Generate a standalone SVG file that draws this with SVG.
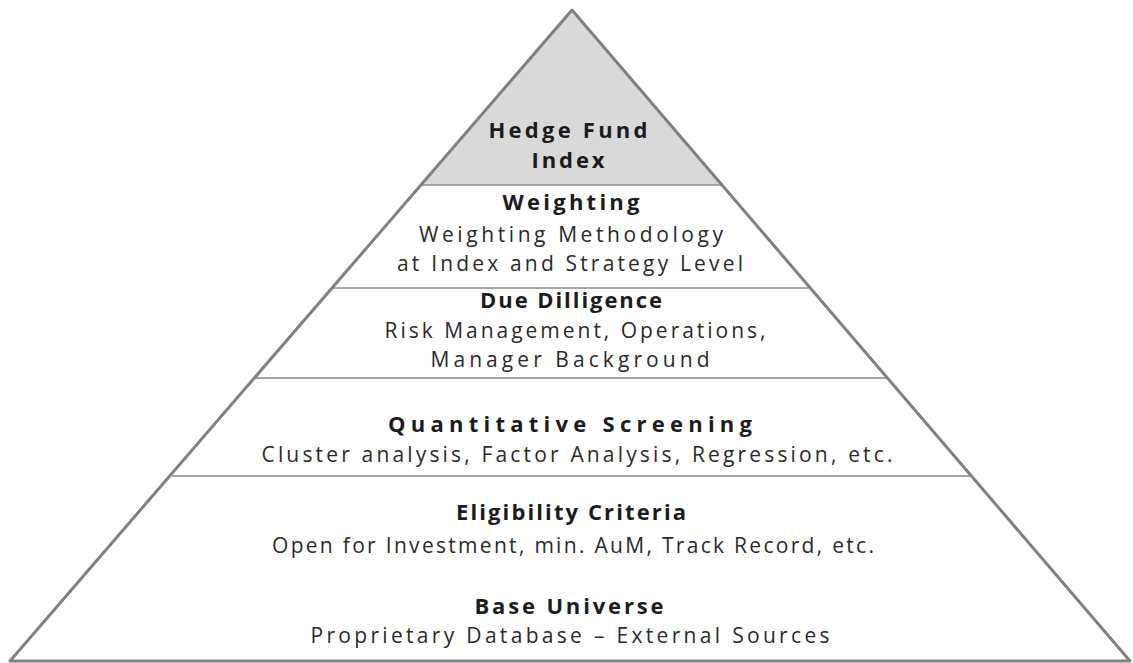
<svg xmlns="http://www.w3.org/2000/svg" width="1133" height="663" viewBox="0 0 1133 663">
<style>
.t{font-family:"Open Sans","Liberation Sans",sans-serif;font-size:21px;fill:#1c1c1c;text-anchor:middle}
.b{font-weight:bold;font-size:22px}
.r{fill:#2a2a2a}
.div{stroke:#a6a6a6;stroke-width:2;fill:none}
.edge{stroke:#808080;stroke-width:3;fill:none;stroke-linejoin:round}
</style>
<rect width="1133" height="663" fill="#ffffff"/>
<polygon points="572,10 10,661 1130,661" fill="#ffffff"/>
<g id="tier-index">
<polygon points="572,10 421,185 722,185" fill="#d9d9d9"/>
<text class="t b" x="568" y="138" textLength="159" lengthAdjust="spacing">Hedge Fund</text>
<text class="t b" x="568" y="168" textLength="73" lengthAdjust="spacing">Index</text>
</g>
<g id="connectors">
<line class="div" x1="421" y1="185" x2="722" y2="185"/>
<line class="div" x1="332" y1="288" x2="810" y2="288"/>
<line class="div" x1="256" y1="378" x2="887" y2="378"/>
<line class="div" x1="172" y1="476" x2="971" y2="476"/>
</g>
<g id="tier-weighting">
<text class="t b" x="571" y="210" textLength="137" lengthAdjust="spacing">Weighting</text>
<text class="t r" x="571" y="242" textLength="304" lengthAdjust="spacing">Weighting Methodology</text>
<text class="t r" x="570" y="271" textLength="346" lengthAdjust="spacing">at Index and Strategy Level</text>
</g>
<g id="tier-due-diligence">
<text class="t b" x="571" y="308" textLength="182" lengthAdjust="spacing">Due Dilligence</text>
<text class="t r" x="575" y="338" textLength="381" lengthAdjust="spacing">Risk Management, Operations,</text>
<text class="t r" x="570" y="367" textLength="279" lengthAdjust="spacing">Manager Background</text>
</g>
<g id="tier-quantitative">
<text class="t b" x="570" y="432" textLength="364" lengthAdjust="spacing">Quantitative Screening</text>
<text class="t r" x="577" y="462" textLength="631" lengthAdjust="spacing">Cluster analysis, Factor Analysis, Regression, etc.</text>
</g>
<g id="tier-eligibility">
<text class="t b" x="571" y="520" textLength="230" lengthAdjust="spacing">Eligibility Criteria</text>
<text class="t r" x="573" y="553" textLength="602" lengthAdjust="spacing">Open for Investment, min. AuM, Track Record, etc.</text>
</g>
<g id="tier-base">
<text class="t b" x="569" y="614" textLength="189" lengthAdjust="spacing">Base Universe</text>
<text class="t r" x="570" y="643" textLength="519" lengthAdjust="spacing">Proprietary Database – External Sources</text>
</g>
<polygon class="edge" points="572,10 10,661 1130,661"/>
</svg>
